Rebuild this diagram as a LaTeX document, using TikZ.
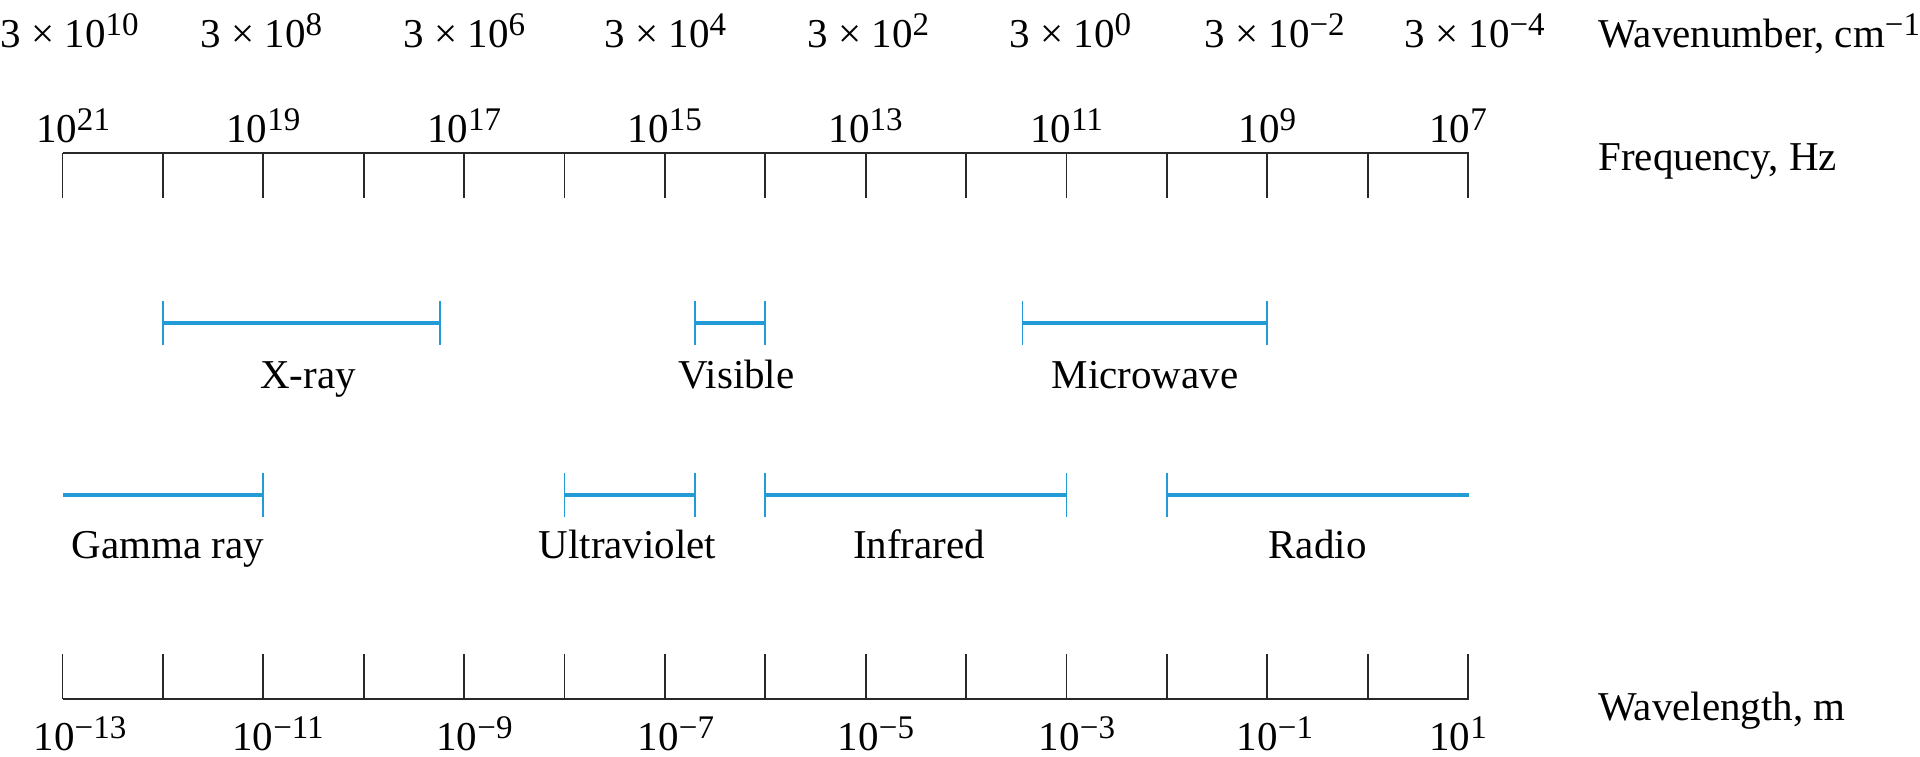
\documentclass[tikz,border=0pt]{standalone}
\usepackage{fontspec}
\setmainfont{Liberation Serif}
\definecolor{specblue}{RGB}{35,155,215}
\definecolor{axisgray}{RGB}{40,40,40}
\newcommand\sups[1]{\raisebox{6pt}{\fontsize{16.5}{16.5}\selectfont #1}}
\begin{document}
\begin{tikzpicture}[x=0.5pt,y=-0.5pt,
  lbl/.style={font=\fontsize{20.5}{24}\selectfont, inner sep=0pt, anchor=base},
  lblw/.style={lbl, anchor=base west},
  axisline/.style={line width=1.3pt, axisgray},
  tickline/.style={line width=0.9pt, axisgray},
  band/.style={line width=2pt, specblue},
  bandend/.style={line width=0.9pt, specblue}]
\useasboundingbox (0,0) rectangle (1920,756);

% ---------- wavenumber row ----------
\node[lblw] (wn0) at (0,47)    {3 × 10\sups{10}};
\node[lblw] (wn1) at (200,47)  {3 × 10\sups{8}};
\node[lblw] (wn2) at (403,47)  {3 × 10\sups{6}};
\node[lblw] (wn3) at (604,47)  {3 × 10\sups{4}};
\node[lblw] (wn4) at (807,47)  {3 × 10\sups{2}};
\node[lblw] (wn5) at (1009,47) {3 × 10\sups{0}};
\node[lblw] (wn6) at (1204,47) {3 × 10\sups{−2}};
\node[lblw] (wn7) at (1404,47) {3 × 10\sups{−4}};
\node[lblw] (wnt) at (1598,47) {Wavenumber, cm\sups{−1}};

% ---------- frequency axis ----------
\coordinate (fL) at (62.5,153);
\coordinate (fR) at (1468.5,153);
\draw[axisline] (fL) -- (fR);
\foreach \i in {0,...,14}
  \draw[tickline] ({62.5+100.4*\i},153) -- ++(0,45);
\node[lbl] (f21) at (73,142)     {10\sups{21}};
\node[lbl] (f19) at (263.3,142)  {10\sups{19}};
\node[lbl] (f17) at (464.1,142)  {10\sups{17}};
\node[lbl] (f15) at (664.9,142)  {10\sups{15}};
\node[lbl] (f13) at (865.7,142)  {10\sups{13}};
\node[lbl] (f11) at (1066.5,142) {10\sups{11}};
\node[lbl] (f9)  at (1267.3,142) {10\sups{9}};
\node[lbl] (f7)  at (1458,142)   {10\sups{7}};
\node[lblw] (ft) at (1598,170)   {Frequency, Hz};

% ---------- upper bands ----------
\coordinate (xa) at (163,323);    \coordinate (xb) at (439.6,323);
\coordinate (va) at (695,323);    \coordinate (vb) at (765.3,323);
\coordinate (ma) at (1022.4,323); \coordinate (mb) at (1267.3,323);
\draw[band] (xa) -- (xb);
\draw[band] (va) -- (vb);
\draw[band] (ma) -- (mb);
\foreach \c in {xa,xb,va,vb,ma,mb}
  \draw[bandend] ([yshift=11pt]\c) -- ([yshift=-11pt]\c);
\node[lbl] (xray) at (308,388)    {X-ray};
\node[lbl] (vis)  at (736.5,388)  {Visible};
\node[lbl] (micro) at (1145,388)  {Microwave};

% ---------- lower bands ----------
\coordinate (ga) at (62.5,495);   \coordinate (gb) at (263.3,495);
\coordinate (ua) at (564.5,495);  \coordinate (ub) at (695,495);
\coordinate (ia) at (765.3,495);  \coordinate (ib) at (1066.5,495);
\coordinate (ra) at (1166.9,495); \coordinate (rb) at (1468.5,495);
\draw[band] (ga) -- (gb);
\draw[band] (ua) -- (ub);
\draw[band] (ia) -- (ib);
\draw[band] (ra) -- (rb);
\foreach \c in {gb,ua,ub,ia,ib,ra}
  \draw[bandend] ([yshift=11pt]\c) -- ([yshift=-11pt]\c);
\node[lbl] (gam) at (168,558)     {Gamma ray};
\node[lbl] (uv)  at (627.5,558)   {Ultraviolet};
\node[lbl] (ir)  at (919,558)     {Infrared};
\node[lbl] (rad) at (1317.5,558)  {Radio};

% ---------- wavelength axis ----------
\coordinate (wL) at (62.5,699);
\coordinate (wR) at (1468.5,699);
\draw[axisline] (wL) -- (wR);
\foreach \i in {0,...,14}
  \draw[tickline] ({62.5+100.4*\i},699) -- ++(0,-45);
\node[lbl] (w13) at (80,750)     {10\sups{−13}};
\node[lbl] (w11) at (278,750)    {10\sups{−11}};
\node[lbl] (w9)  at (474.5,750)  {10\sups{−9}};
\node[lbl] (w7)  at (676,750)    {10\sups{−7}};
\node[lbl] (w5)  at (876,750)    {10\sups{−5}};
\node[lbl] (w3)  at (1077,750)   {10\sups{−3}};
\node[lbl] (w1)  at (1275,750)   {10\sups{−1}};
\node[lbl] (wp1) at (1458,750)   {10\sups{1}};
\node[lblw] (wt) at (1598,720)   {Wavelength, m};
\end{tikzpicture}
\end{document}
